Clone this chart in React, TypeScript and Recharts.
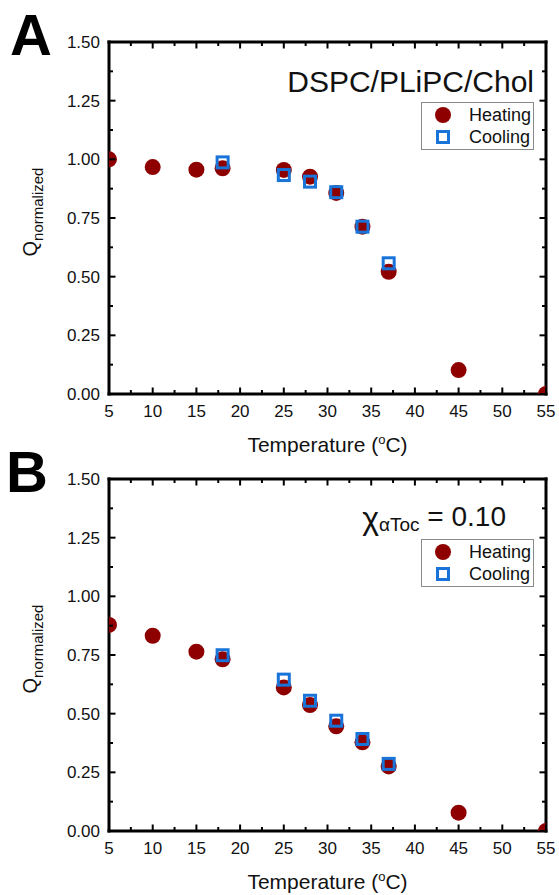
import React from "react";
import { ScatterChart, Scatter, XAxis, YAxis, Legend } from "recharts";

const FONT = "'Liberation Sans', Arial, Helvetica, sans-serif";
const RED = "#8e0000";
const BLUE = "#1874d8";

// temperatures (°C)
const heatTemps = [5, 10, 15, 18, 25, 28, 31, 34, 37, 45, 55];
const coolTemps = [18, 25, 28, 31, 34, 37];

// panel A - DSPC/PLiPC/Chol
const heatA = [1.0, 0.967, 0.956, 0.962, 0.955, 0.926, 0.857, 0.713, 0.521, 0.102, 0.0];
const coolA = [0.987, 0.933, 0.905, 0.86, 0.713, 0.557];

// panel B - chi aToc = 0.10
const heatB = [0.878, 0.832, 0.764, 0.732, 0.612, 0.537, 0.446, 0.378, 0.275, 0.078, 0.0];
const coolB = [0.749, 0.645, 0.555, 0.47, 0.392, 0.286];

// axis ticks (major + minor)
const xTicks = [5, 7.5, 10, 12.5, 15, 17.5, 20, 22.5, 25, 27.5, 30, 32.5, 35, 37.5, 40, 42.5, 45, 47.5, 50, 52.5, 55];
const yTicks = [0, 0.125, 0.25, 0.375, 0.5, 0.625, 0.75, 0.875, 1, 1.125, 1.25, 1.375, 1.5];
const legendOrder = ["Heating", "Cooling"];

const toPoints = (temps: number[], vals: number[]) => temps.map((t, i) => ({ t, q: vals[i] }));

const isMajorX = (v: number) => v % 5 === 0;
const isMajorY = (v: number) => Number.isInteger(v * 4);

const frame = { stroke: "#000", strokeWidth: 3, strokeLinecap: "square" as const };

const BottomTick = (p: any) => {
  const v = p.payload.value;
  const major = isMajorX(v);
  return (
    <g>
      <line x1={p.x} x2={p.x} y1={p.y} y2={p.y - (major ? 6.5 : 4)} stroke="#000" strokeWidth={2} />
      {major && (
        <text x={p.x} y={p.y + 23} textAnchor="middle" fontSize={17} fontFamily={FONT} fill="#111" stroke="none">
          {v}
        </text>
      )}
    </g>
  );
};

const TopTick = (p: any) => {
  const major = isMajorX(p.payload.value);
  return <line x1={p.x} x2={p.x} y1={p.y} y2={p.y + (major ? 6.5 : 4)} stroke="#000" strokeWidth={2} />;
};

const LeftTick = (p: any) => {
  const v = p.payload.value;
  const major = isMajorY(v);
  return (
    <g>
      <line x1={p.x} x2={p.x + (major ? 6.5 : 4)} y1={p.y} y2={p.y} stroke="#000" strokeWidth={2} />
      {major && (
        <text x={p.x - 9} y={p.y + 6} textAnchor="end" fontSize={17} fontFamily={FONT} fill="#111" stroke="none">
          {v.toFixed(2)}
        </text>
      )}
    </g>
  );
};

const RightTick = (p: any) => {
  const major = isMajorY(p.payload.value);
  return <line x1={p.x} x2={p.x - (major ? 6.5 : 4)} y1={p.y} y2={p.y} stroke="#000" strokeWidth={2} />;
};

const XTitle = (p: any) => {
  const vb = p.viewBox;
  return (
    <text x={vb.x + vb.width / 2} y={vb.y + 58} textAnchor="middle" fontSize={21} fontFamily={FONT} fill="#111">
      Temperature (
      <tspan fontSize={13} dy={-8}>o</tspan>
      <tspan dy={8}>C)</tspan>
    </text>
  );
};

const YTitle = (p: any) => {
  const vb = p.viewBox;
  return (
    <text
      transform={`translate(${vb.x + 37}, ${vb.y + 170}) rotate(-90)`}
      textAnchor="middle"
      fontSize={20}
      fontFamily={FONT}
      fill="#111"
    >
      Q<tspan fontSize={15} dy={6}>normalized</tspan>
    </text>
  );
};

const Circle = (p: any) => <circle cx={p.cx} cy={p.cy} r={8} fill={RED} />;
const Square = (p: any) => (
  <rect x={p.cx - 5.5} y={p.cy - 5.5} width={11} height={11} fill="none" stroke={BLUE} strokeWidth={3} />
);

const LegendBox = (props: any) => {
  const entries = [...(props.payload || [])].sort(
    (a: any, b: any) => legendOrder.indexOf(a.value) - legendOrder.indexOf(b.value)
  );
  return (
    <div style={{ width: 113, height: 48, border: "1px solid #8a8a8a", background: "#fff", boxSizing: "border-box" }}>
      <svg width={111} height={46} style={{ display: "block" }}>
        {entries.map((e: any, i: number) => {
          const cy = 12 + 22 * i;
          return (
            <g key={e.value}>
              {e.value === "Heating" ? (
                <circle cx={21} cy={cy} r={8} fill={RED} />
              ) : (
                <rect x={15.5} y={cy - 5.5} width={11} height={11} fill="none" stroke={BLUE} strokeWidth={3} />
              )}
              <text x={47} y={cy + 6} fontSize={18} fontFamily={FONT} fill="#111">
                {e.value}
              </text>
            </g>
          );
        })}
      </svg>
    </div>
  );
};

type PanelProps = {
  top: number;
  letter: string;
  letterLeft: number;
  heat: number[];
  cool: number[];
  note: React.ReactNode;
  noteRight: number;
  noteSize: number;
  noteTop: number;
};

const Panel = (props: PanelProps) => {
  const { top, letter, letterLeft, heat, cool, note, noteRight, noteSize, noteTop } = props;
  return (
    <div style={{ position: "absolute", left: 0, top, width: 559, height: 458 }}>
      <ScatterChart width={559} height={458} margin={{ top: 41, right: 12, bottom: 0, left: 0 }}>
        <XAxis
          xAxisId="top"
          orientation="top"
          type="number"
          dataKey="t"
          domain={[5, 55]}
          ticks={xTicks}
          interval={0}
          height={1}
          tickSize={0}
          tickMargin={0}
          tickLine={false}
          stroke="#000"
          strokeWidth={3}
          axisLine={frame}
          tick={TopTick}
          allowDataOverflow
        />
        <XAxis
          type="number"
          dataKey="t"
          domain={[5, 55]}
          ticks={xTicks}
          interval={0}
          height={64}
          tickSize={0}
          tickMargin={0}
          tickLine={false}
          stroke="#000"
          strokeWidth={3}
          axisLine={frame}
          tick={BottomTick}
          label={XTitle}
          allowDataOverflow
        />
        <YAxis
          type="number"
          dataKey="q"
          domain={[0, 1.5]}
          ticks={yTicks}
          interval={0}
          width={109}
          tickSize={0}
          tickMargin={0}
          tickLine={false}
          stroke="#000"
          strokeWidth={3}
          axisLine={frame}
          tick={LeftTick}
          label={YTitle}
          allowDataOverflow
        />
        <YAxis
          yAxisId="right"
          orientation="right"
          type="number"
          dataKey="q"
          domain={[0, 1.5]}
          ticks={yTicks}
          interval={0}
          width={1}
          tickSize={0}
          tickMargin={0}
          tickLine={false}
          stroke="#000"
          strokeWidth={3}
          axisLine={frame}
          tick={RightTick}
          allowDataOverflow
        />
        <Scatter name="Heating" data={toPoints(heatTemps, heat)} fill={RED} shape={Circle} isAnimationActive={false} />
        <Scatter name="Cooling" data={toPoints(coolTemps, cool)} fill={BLUE} shape={Square} isAnimationActive={false} />
        <Legend
          layout="horizontal"
          verticalAlign="middle"
          align="center"
          content={LegendBox}
          wrapperStyle={{ top: 102, left: 421, width: 113, height: 48 }}
        />
      </ScatterChart>
      <div
        style={{
          position: "absolute",
          left: letterLeft,
          top: 6,
          fontFamily: FONT,
          fontWeight: "bold",
          fontSize: 58,
          lineHeight: "58px",
          color: "#000",
        }}
      >
        {letter}
      </div>
      <div
        style={{
          position: "absolute",
          right: noteRight,
          top: noteTop,
          fontFamily: FONT,
          fontSize: noteSize,
          lineHeight: `${noteSize}px`,
          color: "#111",
          whiteSpace: "nowrap",
        }}
      >
        {note}
      </div>
    </div>
  );
};

export default function App() {
  return (
    <div style={{ position: "absolute", left: 0, top: 0, width: 559, height: 895, background: "#fff" }}>
      <Panel
        top={0}
        letter="A"
        letterLeft={10}
        heat={heatA}
        cool={coolA}
        note="DSPC/PLiPC/Chol"
        noteRight={25}
        noteSize={30}
        noteTop={67}
      />
      <Panel
        top={437}
        letter="B"
        letterLeft={6}
        heat={heatB}
        cool={coolB}
        note={
          <span>
            <span style={{ fontSize: 32, position: "relative", top: 3 }}>χ</span>
            <span style={{ fontSize: 19, position: "relative", top: 5 }}>αToc</span> = 0.10
          </span>
        }
        noteRight={53}
        noteSize={28}
        noteTop={64}
      />
    </div>
  );
}
